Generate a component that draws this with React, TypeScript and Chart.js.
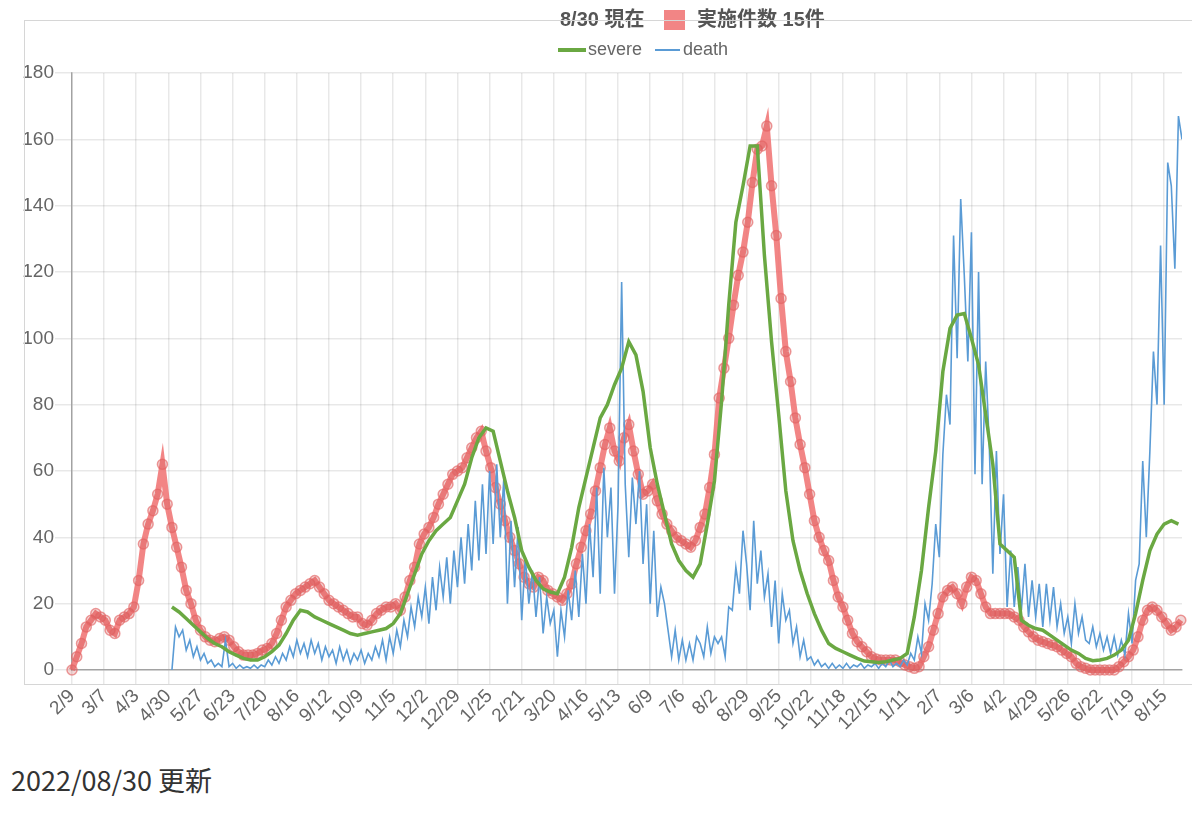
import { useEffect, useRef } from "react"
import { Chart, registerables } from "chart.js"

Chart.register(...registerables)

// x軸の目盛り（2020/2/9 から27日おき）
const tickLabels = [
  "2/9", "3/7", "4/3", "4/30", "5/27", "6/23", "7/20", "8/16", "9/12", "10/9",
  "11/5", "12/2", "12/29", "1/25", "2/21", "3/20", "4/16", "5/13", "6/9", "7/6",
  "8/2", "8/29", "9/25", "10/22", "11/18", "12/15", "1/11", "2/7", "3/6", "4/2",
  "4/29", "5/26", "6/22", "7/19", "8/15",
]
const tickStep = 27
const lastDay = 933

const asOf = "8/30"
const latestCount = 15
const updated = "2022/08/30"

// 実施件数（4日おき、day 0 から）
const testStart = 0
const testStep = 4
const testCounts = [
  0, 4, 8, 13, 15, 17, 16, 15, 12, 11,
  15, 16, 17, 19, 27, 38, 44, 48, 53, 62,
  50, 43, 37, 31, 24, 20, 15, 12, 10, 9,
  8.5, 9.5, 10, 9, 7, 5.5, 4.5, 4.5, 4.5, 5,
  6, 6.5, 8, 11, 15, 19, 21, 23, 24, 25,
  26, 27, 25, 23, 21, 20, 19, 18, 17, 16,
  16, 14, 13.5, 15, 17, 18, 19, 19, 20, 18,
  22, 27, 31, 38, 41, 43, 46, 50, 53, 56,
  59, 60, 61, 64, 67, 70, 72, 66, 61, 55,
  50, 45, 40, 36, 32, 28, 26, 25, 28, 27,
  24, 23, 22, 21, 23, 26, 32, 37, 42, 47,
  54, 61, 68, 73, 66, 63, 70, 74, 66, 59,
  53, 54, 56, 51, 47, 44, 42, 40, 39, 38,
  37, 39, 43, 47, 55, 65, 82, 91, 100, 110,
  119, 126, 135, 147, 157, 158, 164, 146, 131, 112,
  96, 87, 76, 68, 61, 53, 45, 40, 36, 33,
  27, 22, 19, 15, 11, 8.5, 7, 5.5, 4, 3.3,
  3, 3, 3, 3, 2.5, 1.5, 1, 0.5, 1, 4,
  7, 12, 17, 22, 24, 25, 23, 20, 25, 28,
  27, 23, 19, 17, 17, 17, 17, 17, 16, 15,
  13, 11.5, 10, 9, 8.5, 8, 7.5, 7, 6, 5,
  4, 2, 1, 0.5, 0, 0, 0, 0, 0, 0,
  1, 2.5, 4, 6, 10, 15, 18, 19, 18, 16,
  14, 12, 13, 15,
]

// severe（6日おき、day 84 から）
const severeStart = 84
const severeStep = 6
const severe = [
  19, 17.5, 15.5, 13.5, 11.5, 9.5, 8, 7, 5.5, 4.5,
  3.5, 3, 3, 4, 5.5, 7.5, 11, 15, 18, 17.5,
  16, 15, 14, 13, 12, 11, 10.5, 11, 11.5, 12,
  12.5, 14, 17, 23, 29, 35, 39, 42, 44, 46,
  51, 56, 64, 70, 73, 72, 63, 54, 46, 36,
  31, 27, 24.5, 23.5, 23, 28, 37, 49, 58, 67,
  76, 80, 86, 91, 99, 95, 84, 67, 56, 47,
  38, 33, 30, 28, 32, 44, 57, 81, 110, 135,
  146, 158, 158, 125, 99, 77, 54, 39, 30, 23,
  17, 12, 8, 6.5, 5.5, 4.5, 3.5, 2.7, 2.5, 2.3,
  2.5, 3, 3.5, 5, 16, 30, 49, 66, 90, 103,
  107, 107.5, 100, 92, 77, 62, 38, 36, 34, 15,
  13.5, 12.5, 12, 10.5, 9, 7.5, 6, 5, 3.5, 2.8,
  3, 3.5, 4.5, 6, 9, 17, 27, 36, 41, 44,
  45, 44,
]

// death（3日おき、day 84 から）
const deathStart = 84
const deathStep = 3
const death = [
  0, 13, 10, 12, 6, 9, 4, 7, 3, 5,
  2, 3, 1, 2, 1, 9, 1, 2, 0.5, 1.5,
  0.5, 1, 0.5, 1.5, 0.5, 1.5, 1, 3, 1.5, 4,
  2, 5, 3, 7, 4, 9, 5, 8, 4, 9,
  5, 8, 3, 7, 4, 6, 2, 7, 3, 6,
  2, 5, 3, 6, 2, 5, 3, 7, 4, 9,
  3, 10, 5, 12, 7, 15, 10, 19, 13, 22,
  16, 25, 14, 28, 18, 31, 22, 34, 20, 36,
  25, 40, 26, 44, 30, 51, 33, 56, 35, 60,
  38, 62, 40, 58, 20, 45, 25, 43, 15, 34,
  20, 30, 16, 28, 11, 22, 14, 18, 4, 18,
  10, 24, 15, 30, 16, 35, 20, 44, 28, 55,
  23, 61, 40, 55, 23, 50, 117, 56, 34, 58,
  44, 60, 32, 50, 20, 42, 16, 25, 20, 12,
  4, 12, 3, 9, 3, 8, 3, 10, 8, 4,
  13, 5, 10, 8, 10, 4, 19, 18, 31, 23,
  42, 32, 18, 45, 26, 36, 22, 29, 13, 27,
  8, 23, 15, 18, 8, 13, 4, 9, 3, 4,
  1.5, 3, 1, 2, 0.5, 2, 0.5, 1.5, 0.5, 2,
  0.5, 1.5, 1, 2, 0.5, 1.5, 1, 2, 0.5, 2,
  1, 3, 1, 2, 1, 3, 1.5, 5, 3, 10,
  5, 20, 15, 26, 44, 34, 65, 83, 74, 131,
  94, 142, 119, 93, 132, 59, 120, 56, 93, 68,
  29, 66, 35, 53, 19, 36, 19, 31, 18, 32,
  16, 27, 16, 26, 13, 26, 15, 25, 13, 20,
  11, 16, 8, 20, 11, 16, 9, 8, 13, 7,
  11, 6, 10, 5, 10, 4.5, 9, 4.5, 17, 8,
  27, 32, 63, 40, 66, 96, 80, 128, 80, 153,
  146, 121, 167, 160,
]

const fontFamily = "'Liberation Sans', Arial, 'Noto Sans CJK JP', sans-serif"
const testColor = "rgba(240, 112, 112, 0.85)"
const severeColor = "#6aa842"
const deathColor = "#5a9bd5"
const gridColor = "rgba(0, 0, 0, 0.09)"

function toPoints(start: number, step: number, values: number[]) {
  return values.map((y, i) => ({ x: start + i * step, y }))
}

// 凡例と外枠は手で描く
const legendPlugin = {
  id: "legendAndFrame",
  afterDraw(chart: Chart) {
    const { ctx } = chart
    ctx.save()
    ctx.textAlign = "left"
    ctx.textBaseline = "middle"

    ctx.font = `bold 20px ${fontFamily}`
    ctx.fillStyle = "#555"
    ctx.fillText(`${asOf} 現在`, 552, 12)
    ctx.fillStyle = testColor
    ctx.fillRect(656, 2, 21, 20)
    ctx.fillStyle = "#555"
    ctx.fillText(`実施件数 ${latestCount}件`, 689, 12)

    ctx.font = `18px ${fontFamily}`
    ctx.fillStyle = "#666"
    ctx.strokeStyle = severeColor
    ctx.lineWidth = 4
    ctx.beginPath()
    ctx.moveTo(550, 42)
    ctx.lineTo(578, 42)
    ctx.stroke()
    ctx.fillText("severe", 580, 42)

    ctx.strokeStyle = deathColor
    ctx.lineWidth = 2
    ctx.beginPath()
    ctx.moveTo(647, 42)
    ctx.lineTo(672, 42)
    ctx.stroke()
    ctx.fillText("death", 675, 42)

    ctx.strokeStyle = "#d6d6d6"
    ctx.lineWidth = 1
    ctx.strokeRect(16.5, 12.5, 1169, 664)
    ctx.restore()
  },
}

function CaseChart() {
  const chartRef = useRef<HTMLCanvasElement>(null)
  const chartInstance = useRef<Chart | null>(null)

  useEffect(() => {
    if (!chartRef.current) return
    if (chartInstance.current) {
      chartInstance.current.destroy()
    }
    const ctx = chartRef.current.getContext("2d")
    if (!ctx) return

    chartInstance.current = new Chart(ctx, {
      type: "line",
      data: {
        datasets: [
          {
            label: "severe",
            data: toPoints(severeStart, severeStep, severe),
            borderColor: severeColor,
            borderWidth: 3.5,
            pointRadius: 0,
            tension: 0,
            order: 0,
          },
          {
            label: "death",
            data: toPoints(deathStart, deathStep, death),
            borderColor: deathColor,
            borderWidth: 1.6,
            pointRadius: 0,
            tension: 0,
            order: 1,
          },
          {
            label: "実施件数",
            data: toPoints(testStart, testStep, testCounts),
            borderColor: testColor,
            borderWidth: 6,
            pointRadius: 5,
            pointBorderWidth: 1.5,
            pointBorderColor: "rgba(228, 100, 100, 0.65)",
            pointBackgroundColor: "rgba(200, 75, 75, 0.22)",
            tension: 0,
            clip: 8,
            order: 2,
          },
        ],
      },
      options: {
        animation: false,
        responsive: true,
        maintainAspectRatio: false,
        events: [],
        layout: { padding: { top: 65, right: 10, left: 0, bottom: 0 } },
        plugins: {
          legend: { display: false },
          tooltip: { enabled: false },
        },
        scales: {
          x: {
            type: "linear",
            min: 0,
            max: lastDay,
            afterBuildTicks: (axis) => {
              axis.ticks = tickLabels.map((_, i) => ({ value: i * tickStep }))
            },
            afterFit: (axis) => {
              axis.height = 60
            },
            ticks: {
              autoSkip: false,
              minRotation: 45,
              maxRotation: 45,
              color: "#666",
              padding: 1,
              font: { size: 19, family: fontFamily },
              callback: (_value, index) => tickLabels[index],
            },
            grid: { color: gridColor, lineWidth: 1.5, tickLength: 14 },
            border: { color: "rgba(0, 0, 0, 0.3)", width: 1.5 },
          },
          y: {
            min: 0,
            max: 180,
            afterFit: (axis) => {
              axis.width = 64
            },
            ticks: {
              stepSize: 20,
              color: "#666",
              padding: 1,
              font: { size: 19, family: fontFamily },
            },
            grid: { color: gridColor, lineWidth: 1.5, tickLength: 17 },
            border: { color: "rgba(0, 0, 0, 0.3)", width: 1.5 },
          },
        },
      },
      plugins: [legendPlugin],
    })

    return () => {
      if (chartInstance.current) {
        chartInstance.current.destroy()
        chartInstance.current = null
      }
    }
  }, [])

  return (
    <div style={{ width: 1184, height: 722, position: "relative" }}>
      <canvas ref={chartRef} />
    </div>
  )
}

export default function App() {
  return (
    <div>
      <CaseChart />
      <div
        style={{
          marginTop: 33,
          paddingLeft: 3,
          fontFamily: "'Noto Sans CJK JP', 'Noto Sans', sans-serif",
          fontSize: 27,
          lineHeight: "34px",
          color: "#333",
        }}
      >
        {updated} 更新
      </div>
    </div>
  )
}
